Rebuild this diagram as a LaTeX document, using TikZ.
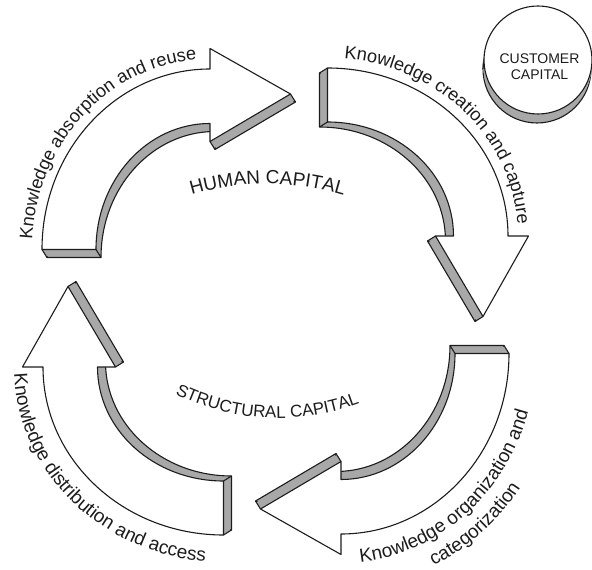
\documentclass[tikz,border=0pt]{standalone}
\usepackage{fontspec}
\setmainfont{Liberation Sans}
\usetikzlibrary{decorations.text}

\definecolor{sidegray}{RGB}{168,168,168}
\definecolor{inkc}{RGB}{28,28,28}

\newcommand\lblfont{\fontsize{19}{22}\selectfont}
\newcommand\topfont{\fontsize{18.2}{21}\selectfont}
\newcommand\midfont{\fontsize{17}{20}\selectfont}
\newcommand\capfont{\fontsize{14}{16}\selectfont}

% One curved block arrow in its own frame (arc centre at (-65.5,52)),
% shifted by (#1,#2) so that the same outline gives the back face.
\newcommand\arrowpath[2]{%
  ({-233.5+(#1)},{52+(#2)})
  arc[start angle=180,end angle=90,x radius=168pt,y radius=180.5pt]
  -- ({-65.5+(#1)},{253+(#2)})
  -- ({15+(#1)},{207.5+(#2)})
  -- ({-65.5+(#1)},{160+(#2)})
  -- ({-65.5+(#1)},{178+(#2)})
  arc[start angle=90,end angle=180,x radius=114pt,y radius=126pt]
  -- cycle}

% Extruded arrow: grey back face, grey sides, corner edges, white front face.
\newcommand\solidarrow{%
  \draw[edge,fill=sidegray] \arrowpath{5}{-8};
  \foreach \t in {0.1,0.2,...,0.8}{\fill[sidegray] \arrowpath{5*\t}{-8*\t};}
  \foreach \px/\py in {-233.5/52,-179.5/52,15/207.5,-65.5/160}{%
    \draw[edge] (\px,\py) -- ++(5,-8);}
  \draw[edge,fill=white] \arrowpath{0}{0};
}

\begin{document}
\begin{tikzpicture}[x=1pt,y=1pt,
  edge/.style={draw=inkc,line width=1.1pt,line join=round},
  curvetext/.style={decorate,decoration={text along path,text align=left,
    text color=inkc,text={#1}}}]

\fill[white] (-275.5,-268.5) rectangle (316.5,301.5);
\useasboundingbox (-275.5,-268.5) rectangle (316.5,301.5);

% the four arrows of the cycle
\begin{scope}[rotate=0]\solidarrow\end{scope}
\begin{scope}[rotate=-90]\solidarrow\end{scope}
\begin{scope}[rotate=-180]\solidarrow\end{scope}
\begin{scope}[rotate=90]\solidarrow\end{scope}

% labels running along the outer edges
\begin{scope}[rotate=0]
  \path[curvetext={|\topfont|Knowledge absorption and reuse}]
    ({-65.5+178*cos(177)},{52+190.5*sin(177)})
    arc[start angle=177,end angle=60,x radius=178pt,y radius=190.5pt];
\end{scope}
\begin{scope}[rotate=-90]
  \path[curvetext={|\topfont|Knowledge creation and capture}]
    ({-65.5+178*cos(175)},{52+190.5*sin(175)})
    arc[start angle=175,end angle=60,x radius=178pt,y radius=190.5pt];
\end{scope}
\begin{scope}[rotate=-180]
  \path[curvetext={|\lblfont|Knowledge organization and}]
    ({-65.5+195*cos(95.7)},{52+209.5*sin(95.7)})
    arc[start angle=95.7,end angle=210,x radius=195pt,y radius=209.5pt];
  \path[curvetext={|\lblfont|categorization}]
    ({-65.5+219*cos(115)},{52+234*sin(115)})
    arc[start angle=115,end angle=210,x radius=219pt,y radius=234pt];
\end{scope}
\begin{scope}[rotate=90]
  \path[curvetext={|\lblfont|Knowledge distribution and access}]
    ({-65.5+195*cos(92)},{52+209.5*sin(92)})
    arc[start angle=92,end angle=210,x radius=195pt,y radius=209.5pt];
\end{scope}

% inner captions
\path[curvetext={|\lblfont|HUMAN CAPITAL}]
  ({-8.5+265*cos(106.5)},{-147.5+265*sin(106.5)})
  arc[start angle=106.5,end angle=60,radius=265pt];
\path[curvetext={|\midfont|STRUCTURAL CAPITAL}]
  ({2.5+233*cos(243.8)},{116.5+233*sin(243.8)})
  arc[start angle=243.8,end angle=320,radius=233pt];

% customer capital disc
\draw[edge,fill=sidegray] (261.5,232.5) circle[radius=54pt];
\foreach \t in {0,0.1,...,0.8}{\fill[sidegray] ({262.5-\t},{241.5-9*\t}) circle[radius=54pt];}
\draw[edge] (208.5,241.5) -- ++(-1,-9);
\draw[edge,fill=white] (262.5,241.5) circle[radius=54pt];
\node[align=center,font=\capfont,text=inkc] (customer) at (264,235) {CUSTOMER\\CAPITAL};

\end{tikzpicture}
\end{document}
